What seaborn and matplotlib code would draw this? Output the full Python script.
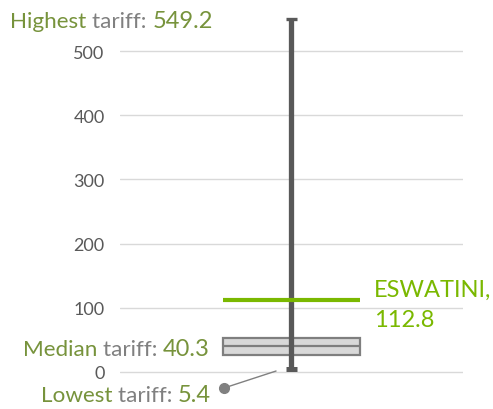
import matplotlib
matplotlib.use("Agg")
import matplotlib.pyplot as plt
import seaborn as sns
import pandas as pd

# ---- data ----
summary_labels = ["Lowest", "Q1", "Median", "Q3", "Highest"]
summary_values = [5.4, 26.0, 40.3, 53.0, 549.2]
country_name = "ESWATINI"
country_value = 112.8
y_ticks = [0, 100, 200, 300, 400, 500]

sns.set_theme(style="whitegrid")
plt.rcParams["font.family"] = ["Lato", "DejaVu Sans"]

OLIVE = "#77933C"
GRAY_TXT = "#808080"
BRIGHT = "#7AB800"
DARK = "#595959"

fig = plt.figure(figsize=(4.93, 4.10), dpi=100)
ax = fig.add_axes([0.2434, 0.0856, 0.6957, 0.8815])

df = pd.DataFrame({"g": ["all"] * len(summary_values), "tariff": summary_values})
sns.boxplot(data=df, x="g", y="tariff", ax=ax, whis=(0, 100), width=0.4,
            showcaps=False, color="#d9d9d9", linecolor="#7f7f7f", linewidth=1.6,
            fliersize=0)
for p in ax.patches:
    p.set_facecolor("#d9d9d9")

lo, hi = summary_values[0], summary_values[-1]
ax.vlines(0, lo, hi, color=DARK, lw=3.8, zorder=5)
ax.hlines(hi, -0.017, 0.017, color=DARK, lw=2.4, zorder=5)
ax.hlines(lo - 1.5, -0.017, 0.017, color=DARK, lw=3.6, zorder=5)
ax.hlines(country_value, -0.2, 0.2, color=BRIGHT, lw=3.0, zorder=6)

ax.set_xlim(-0.5, 0.5)
ax.set_ylim(-3, 560)
ax.set_yticks(y_ticks)
ax.set_xticks([])
ax.set_xlabel("")
ax.set_ylabel("")
ax.grid(axis="y", color="#d9d9d9", lw=1.0)
ax.grid(axis="x", visible=False)
for s in ax.spines.values():
    s.set_visible(False)
ax.tick_params(axis="y", length=0, pad=11, labelsize=13, labelcolor=DARK)


def label(word, value, x, y, big=17, small=16.2):
    num = ax.text(x, y, f"{value}", ha="right", va="baseline", color=OLIVE,
                  fontsize=big, clip_on=False)
    mid = ax.annotate("tariff: ", xy=(0, y), xycoords=(num, "data"), ha="right",
                      va="baseline", color=GRAY_TXT, fontsize=small,
                      annotation_clip=False)
    ax.annotate(word + " ", xy=(0, y), xycoords=(mid, "data"), ha="right",
                va="baseline", color=OLIVE, fontsize=small, annotation_clip=False)


label("Highest", hi, -0.229, 537.4)
label("Median", summary_values[2], -0.238, 26.5)
label("Lowest", lo, -0.235, -45.2)

ax.plot([-0.197, -0.045], [-25, 1.5], color=GRAY_TXT, lw=1.0, clip_on=False, zorder=4)
ax.plot([-0.197], [-25], marker="o", ms=7, color=GRAY_TXT, clip_on=False, zorder=4)

ax.text(0.24, 118.4, f"{country_name},", ha="left", va="baseline", color=BRIGHT,
        fontsize=17, clip_on=False)
ax.text(0.24, 71.7, f"{country_value}", ha="left", va="baseline", color=BRIGHT,
        fontsize=17, clip_on=False)

fig.savefig("out.png", dpi=100)
